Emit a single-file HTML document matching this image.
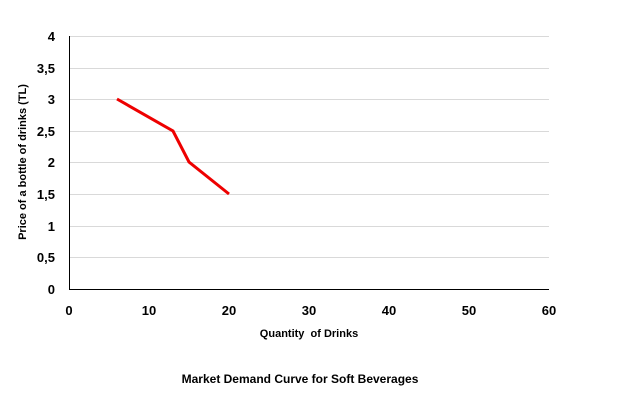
<!DOCTYPE html>
<html><head><style>body{margin:0;background:#fff}</style></head><body>
<svg width="622" height="401" xmlns="http://www.w3.org/2000/svg" font-family="Liberation Sans, sans-serif">
<rect width="622" height="401" fill="#fff"/>
<g stroke="#d9d9d9" stroke-width="1">
<line x1="69" x2="549" y1="36.5" y2="36.5"/><line x1="69" x2="549" y1="68.5" y2="68.5"/><line x1="69" x2="549" y1="99.5" y2="99.5"/><line x1="69" x2="549" y1="131.5" y2="131.5"/><line x1="69" x2="549" y1="162.5" y2="162.5"/><line x1="69" x2="549" y1="194.5" y2="194.5"/><line x1="69" x2="549" y1="226.5" y2="226.5"/><line x1="69" x2="549" y1="257.5" y2="257.5"/>
</g>
<line x1="69.5" y1="36" x2="69.5" y2="289" stroke="#000"/>
<line x1="69" y1="289.5" x2="549" y2="289.5" stroke="#000"/>
<g font-size="13" font-weight="bold" text-anchor="end">
<text x="55" y="41">4</text><text x="55" y="73">3,5</text><text x="55" y="104">3</text><text x="55" y="136">2,5</text><text x="55" y="167">2</text><text x="55" y="199">1,5</text><text x="55" y="231">1</text><text x="55" y="262">0,5</text><text x="55" y="294">0</text>
</g>
<g font-size="13" font-weight="bold" text-anchor="middle">
<text x="69" y="315">0</text><text x="149" y="315">10</text><text x="229" y="315">20</text><text x="309" y="315">30</text><text x="389" y="315">40</text><text x="469" y="315">50</text><text x="549" y="315">60</text>
</g>
<text x="309" y="337" font-size="11" font-weight="bold" text-anchor="middle">Quantity&#160; of Drinks</text>
<text transform="translate(26,162) rotate(-90)" font-size="11" font-weight="bold" text-anchor="middle">Price of a bottle of drinks (TL)</text>
<polyline points="117,99 173,131 189,162 229,194" fill="none" stroke="#e00" stroke-width="3"/>
<text x="300" y="383" font-size="12" font-weight="bold" text-anchor="middle">Market Demand Curve for Soft Beverages</text>
</svg>
</body></html>
